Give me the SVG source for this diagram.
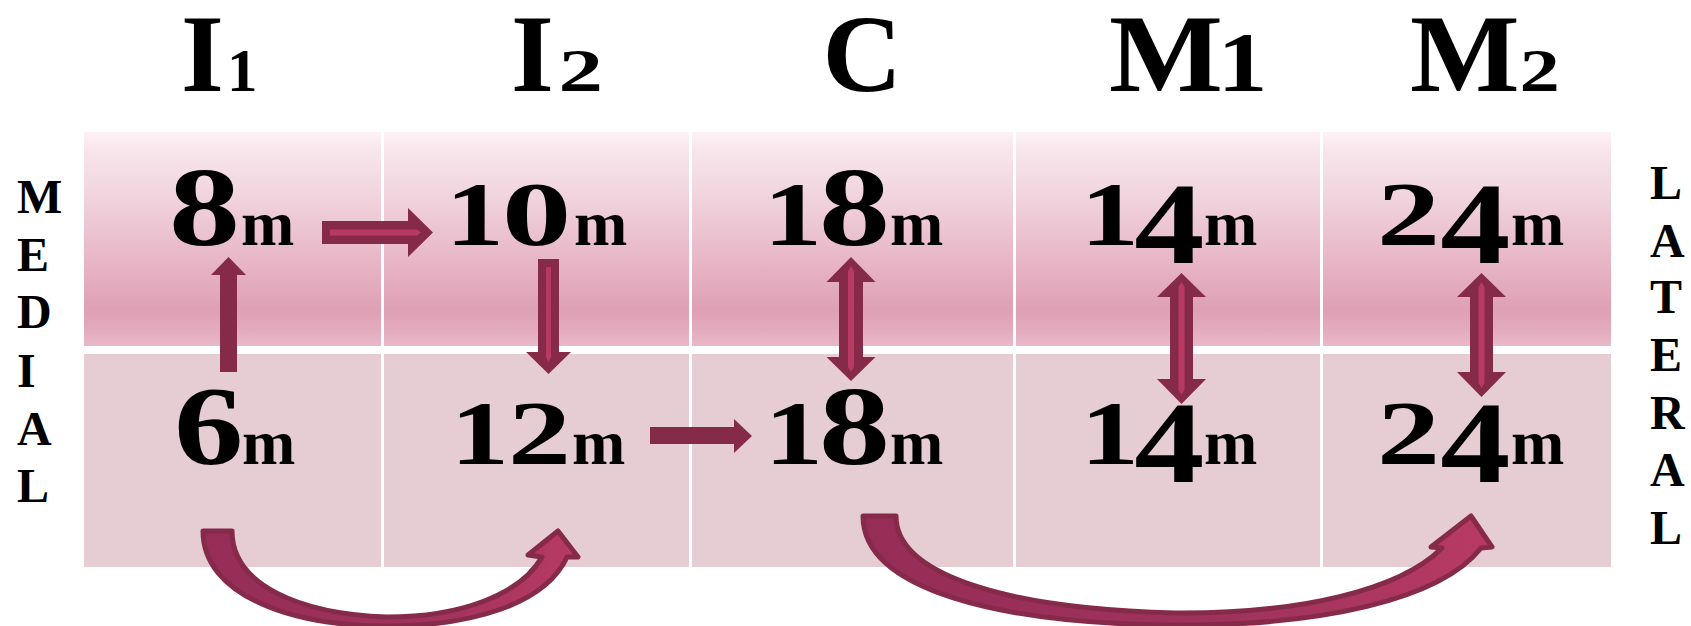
<svg xmlns="http://www.w3.org/2000/svg" width="1691" height="626" viewBox="0 0 1691 626">
<defs>
<linearGradient id="upper" x1="0" y1="0" x2="0" y2="1">
<stop offset="0" stop-color="#fcf2f5"/>
<stop offset="0.08" stop-color="#f8e6ec"/>
<stop offset="0.32" stop-color="#f0d2dc"/>
<stop offset="0.62" stop-color="#e7b4c5"/>
<stop offset="0.83" stop-color="#dea0b5"/>
<stop offset="0.92" stop-color="#e2aabd"/>
<stop offset="1" stop-color="#e9b9c9"/>
</linearGradient>
<linearGradient id="curve" x1="0" y1="0" x2="1" y2="0">
<stop offset="0" stop-color="#952d57"/>
<stop offset="0.6" stop-color="#a0335c"/>
<stop offset="1" stop-color="#b83a64"/>
</linearGradient>
<style>
.t{font-family:"Liberation Serif","Times New Roman",serif;font-weight:bold;fill:#000}
.h{font-size:110px}
.hs{font-size:61px}
.side{font-size:48px}
.sm{font-size:90px}
.tl{font-size:113px}
.f4{font-size:116px}
.m{font-size:64px}
.dark{fill:#862a4a}
.stripe{fill:#b83a64}
.curve{fill:url(#curve);stroke:#862a4a;stroke-width:5;stroke-linejoin:round}
</style>
</defs>
<rect width="1691" height="626" fill="#ffffff"/>
<g id="table">
<rect x="84" y="132" width="1527" height="214" fill="url(#upper)"/>
<rect x="84" y="354" width="1527" height="213" fill="#e6cdd4"/>
<rect x="381" y="132" width="3" height="435" fill="#ffffff"/>
<rect x="689" y="132" width="3" height="435" fill="#ffffff"/>
<rect x="1013" y="132" width="3" height="435" fill="#ffffff"/>
<rect x="1320" y="132" width="3" height="435" fill="#ffffff"/>
</g>
<g id="headers">
<text class="t h" y="91"><tspan x="181">I</tspan><tspan class="hs" x="227">1</tspan></text>
<text class="t h" y="91"><tspan x="511">I</tspan><tspan class="hs" x="558.5" textLength="44.5" lengthAdjust="spacingAndGlyphs">2</tspan></text>
<text class="t h" x="822.6" y="91">C</text>
<text class="t h" y="91"><tspan x="1109" textLength="114" lengthAdjust="spacingAndGlyphs">M</tspan><tspan x="1217.5" style="font-size:84px" textLength="50" lengthAdjust="spacingAndGlyphs">1</tspan></text>
<text class="t h" y="91"><tspan x="1410" textLength="109.6" lengthAdjust="spacingAndGlyphs">M</tspan><tspan class="hs" x="1519.6" textLength="40.3" lengthAdjust="spacingAndGlyphs">2</tspan></text>
</g>
<g id="side-labels">
<text class="t side"><tspan x="17" y="213">M</tspan><tspan x="17" y="271">E</tspan><tspan x="17" y="328">D</tspan><tspan x="17" y="387">I</tspan><tspan x="17" y="445">A</tspan><tspan x="17" y="502">L</tspan></text>
<text class="t side"><tspan x="1650" y="199">L</tspan><tspan x="1650" y="257">A</tspan><tspan x="1650" y="313">T</tspan><tspan x="1650" y="371">E</tspan><tspan x="1650" y="429">R</tspan><tspan x="1650" y="486">A</tspan><tspan x="1650" y="544">L</tspan></text>
</g>
<g id="node-I1-medial"><text class="t" y="245"><tspan class="tl" x="169" textLength="71" lengthAdjust="spacingAndGlyphs">8</tspan><tspan class="m" x="241">m</tspan></text></g>
<g id="node-I2-medial"><text class="t" y="245"><tspan class="sm" x="445.4" textLength="58.5" lengthAdjust="spacingAndGlyphs">1</tspan><tspan class="sm" x="501.7" textLength="69.7" lengthAdjust="spacingAndGlyphs">0</tspan><tspan class="m" x="574">m</tspan></text></g>
<g id="node-C-medial"><text class="t" y="245"><tspan class="sm" x="763.4" textLength="58.5" lengthAdjust="spacingAndGlyphs">1</tspan><tspan class="tl" x="819" textLength="71" lengthAdjust="spacingAndGlyphs">8</tspan><tspan class="m" x="890">m</tspan></text></g>
<g id="node-M1-medial"><text class="t" y="245"><tspan class="sm" x="1080.4" textLength="58.5" lengthAdjust="spacingAndGlyphs">1</tspan><tspan class="f4" x="1134.3" y="263" textLength="70.2" lengthAdjust="spacingAndGlyphs">4</tspan><tspan class="m" x="1204" y="245">m</tspan></text></g>
<g id="node-M2-medial"><text class="t" y="245"><tspan class="sm" x="1376.9" textLength="63" lengthAdjust="spacingAndGlyphs">2</tspan><tspan class="f4" x="1440.3" y="263" textLength="70.2" lengthAdjust="spacingAndGlyphs">4</tspan><tspan class="m" x="1511" y="245">m</tspan></text></g>
<g id="node-I1-lateral"><text class="t" y="464"><tspan class="tl" x="174.1" textLength="69.5" lengthAdjust="spacingAndGlyphs">6</tspan><tspan class="m" x="242">m</tspan></text></g>
<g id="node-I2-lateral"><text class="t" y="464"><tspan class="sm" x="450.4" textLength="58.5" lengthAdjust="spacingAndGlyphs">1</tspan><tspan class="sm" x="507.9" textLength="63" lengthAdjust="spacingAndGlyphs">2</tspan><tspan class="m" x="572">m</tspan></text></g>
<g id="node-C-lateral"><text class="t" y="464"><tspan class="sm" x="764.4" textLength="58.5" lengthAdjust="spacingAndGlyphs">1</tspan><tspan class="tl" x="819" textLength="71" lengthAdjust="spacingAndGlyphs">8</tspan><tspan class="m" x="890">m</tspan></text></g>
<g id="node-M1-lateral"><text class="t" y="464"><tspan class="sm" x="1080.4" textLength="58.5" lengthAdjust="spacingAndGlyphs">1</tspan><tspan class="f4" x="1134.3" y="482" textLength="70.2" lengthAdjust="spacingAndGlyphs">4</tspan><tspan class="m" x="1204" y="464">m</tspan></text></g>
<g id="node-M2-lateral"><text class="t" y="464"><tspan class="sm" x="1376.9" textLength="63" lengthAdjust="spacingAndGlyphs">2</tspan><tspan class="f4" x="1440.3" y="482" textLength="70.2" lengthAdjust="spacingAndGlyphs">4</tspan><tspan class="m" x="1511" y="464">m</tspan></text></g>
<g id="connectors">
<polygon class="dark" points="322,221 408,221 408,208 433,232.5 408,257 408,244 322,244"/>
<polygon class="stripe" points="330,229.5 417,229.5 421,232.5 417,235.5 330,235.5"/>
<polygon class="dark" points="538,259 559,259 559,352 571,352 548.5,374 526,352 538,352"/>
<polygon class="stripe" points="546,267 551,267 551,357 548.5,362 546,357"/>
<polygon class="dark" points="220,372 237,372 237,275 246,275 228.5,257 211,275 220,275"/>
<polygon class="dark" points="650,427 734,427 734,419 752,436 734,453 734,444 650,444"/>
<polygon class="dark" points="851,257 875.5,282 863,282 863,357 875.5,357 851,381 826.5,357 839,357 839,282 826.5,282"/>
<polygon class="stripe" points="851,266 854,271 854,367 851,372 848,367 848,271"/>
<polygon class="dark" points="1181.5,273 1206,297 1193,297 1193,379 1206,379 1181.5,404 1157,379 1170,379 1170,297 1157,297"/>
<polygon class="stripe" points="1181.5,282 1184.5,287 1184.5,390 1181.5,395 1178.5,390 1178.5,287"/>
<polygon class="dark" points="1481.5,273 1506,297 1493,297 1493,372 1506,372 1481.5,397 1457,372 1470,372 1470,297 1457,297"/>
<polygon class="stripe" points="1481.5,282 1484.5,287 1484.5,383 1481.5,388 1478.5,383 1478.5,287"/>
<path class="curve" d="M203,531 L232,531 C232,585 300,614 387,617 C460,617 520,595 542,557 L528,555 L558,531 L578,557 L567,557 C545,605 470,626 387,626 C290,626 203,595 203,531 Z"/>
<path class="curve" d="M863,516 L896,516 C896,570 990,608 1175,613 C1300,614 1400,590 1442,548 L1431,547 L1471,516 L1492,547 L1481,548 C1440,600 1320,626 1175,625 C1000,624 863,590 863,516 Z"/>
</g>
</svg>
